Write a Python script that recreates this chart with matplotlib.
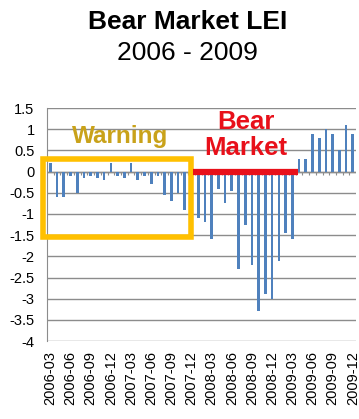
import matplotlib
matplotlib.use("Agg")
import matplotlib.pyplot as plt
import numpy as np

plt.rcParams['font.family'] = ['Liberation Sans', 'DejaVu Sans']

# monthly LEI change, 2006-03 .. 2009-12
months = ["%d-%02d" % (y, m) for y in range(2006, 2010) for m in range(1, 13)][2:]
lei = [0.2, -0.6, -0.6, -0.1, -0.5, -0.15, -0.1, -0.15, -0.2, 0.2,
       -0.1, -0.15, 0.2, -0.2, -0.1, -0.3, -0.1, -0.55, -0.7, -0.5,
       -0.9, -0.1, -1.1, -1.2, -1.6, -0.4, -0.75, -0.45, -2.3, -1.25,
       -2.2, -3.3, -2.9, -3.0, -2.1, -1.45, -1.6, 0.3, 0.3, 0.9,
       0.8, 1.0, 0.9, 0.5, 1.1, 0.9]
tick_labels = months[::3]
yticks = np.arange(-4, 1.51, 0.5)

# highlighted periods (by month label)
warn_start, warn_end = "2006-03", "2007-12"
bear_start, bear_end = "2007-12", "2009-03"

fig = plt.figure(figsize=(3.59, 4.19), dpi=100)
ax = fig.add_axes([0.131, 0.186, 0.861, 0.556])

x = np.arange(len(lei))
ax.bar(x, lei, width=0.4, color='#4F81BD', zorder=3)

ax.set_xlim(-0.5, len(lei) - 0.5)
ax.set_ylim(-4, 1.5)
ax.set_yticks(yticks)
ax.set_yticklabels(['%g' % v for v in yticks], fontsize=10.5)
ax.set_xticks(x[::3])
ax.set_xticklabels(tick_labels, rotation=90, fontsize=10.5)
ax.tick_params(axis='y', length=0, pad=9)
ax.tick_params(axis='x', length=0, pad=7)

ax.grid(axis='y', color='#8c8c8c', linewidth=1, zorder=0)
for s in ['top', 'right', 'bottom']:
    ax.spines[s].set_visible(False)
ax.spines['left'].set_color('#8c8c8c')

# category axis at zero with small tick marks
ax.axhline(0, color='#8c8c8c', linewidth=1, zorder=2)
ax.vlines(x[1:] - 0.5, -0.07, 0, color='#8c8c8c', linewidth=0.8, zorder=2)

# warning box
i0 = months.index(warn_start) - 1.1
i1 = months.index(warn_end)
box = plt.Rectangle((i0, -1.55), i1 - i0, 1.85, fill=False,
                    edgecolor='#FFC000', linewidth=4, zorder=5, clip_on=False)
ax.add_patch(box)
ax.text((i0 + i1) / 2 + 0.4, 0.83, "Warning", color='#C9A21A', fontsize=17.5,
        fontweight='bold', ha='center', va='center', zorder=6)

# bear market bar
b0 = months.index(bear_start) + 0.2
b1 = months.index(bear_end) + 0.9
ax.plot([b0, b1], [0, 0], color='#E8101A', linewidth=4.5,
        solid_capstyle='butt', zorder=6)
ax.text((b0 + b1) / 2, 0.875, "Bear\nMarket", color='#E8101A', fontsize=18.5,
        fontweight='bold', ha='center', va='center', linespacing=1.1, zorder=6)

fig.text(0.522, 0.948, "Bear Market LEI", fontsize=19, fontweight='bold',
         ha='center', va='center')
fig.text(0.522, 0.873, "2006 - 2009", fontsize=19, ha='center', va='center')

fig.savefig("out.png", dpi=100)
